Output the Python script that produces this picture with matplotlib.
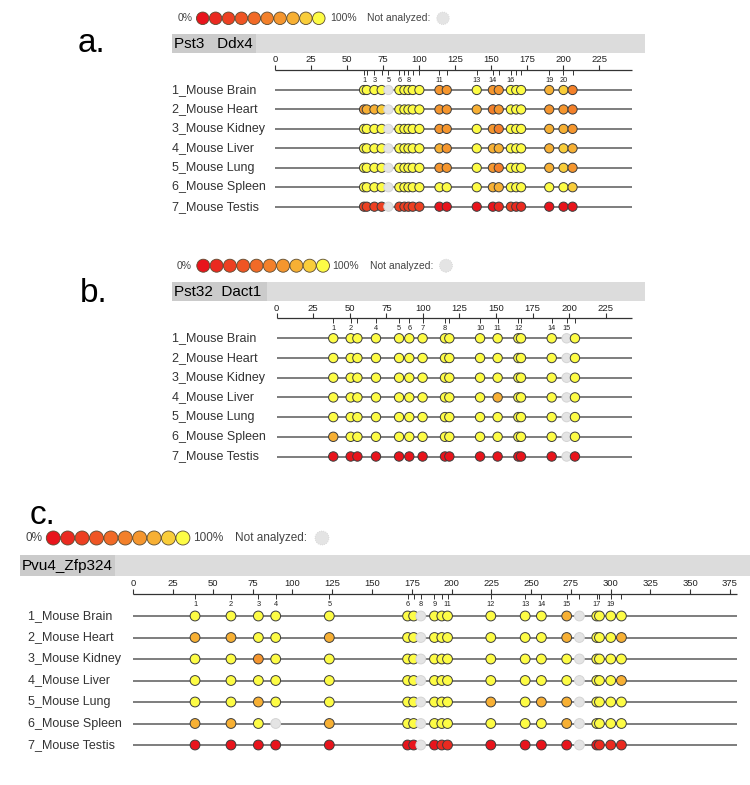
import numpy as np
import matplotlib
matplotlib.use('Agg')
from matplotlib import pyplot as plt
from matplotlib.patches import Rectangle
import matplotlib.transforms as mtransforms

plt.rcParams['font.family'] = ['Liberation Sans', 'DejaVu Sans']

W, H = 750, 785

tissues = ['1_Mouse Brain', '2_Mouse Heart', '3_Mouse Kidney', '4_Mouse Liver',
           '5_Mouse Lung', '6_Mouse Spleen', '7_Mouse Testis']

# 0% ... 100% methylation, 10 levels
palette = ['#e8141c', '#ea2a20', '#ed4022', '#ef5524', '#f16a27',
           '#f3802a', '#f5962e', '#f7b034', '#f9cd3a', '#fdfc45']
na_color = '#e4e4e4'

# panel a: Pst3 Ddx4
a_pos = [61.8, 63.7, 69, 74, 78.7, 86.3, 89.8, 92.6, 95.6, 100.2, 114.1, 119.2,
         140, 151.2, 155.3, 163.7, 167.4, 170.8, 190.3, 200.2, 206.5]
a_labels = [1, 3, 5, 6, 8, 11, 13, 14, 16, 19, 20]
a_levels = [
    [9, 9, 9, 9, -1, 9, 9, 9, 9, 9, 6, 6, 9, 6, 6, 9, 9, 9, 7, 8, 5],
    [6, 7, 7, 8, -1, 9, 9, 9, 9, 9, 6, 6, 7, 5, 6, 9, 9, 9, 6, 6, 5],
    [9, 9, 9, 9, -1, 9, 9, 9, 9, 9, 6, 6, 9, 6, 5, 9, 9, 9, 7, 7, 6],
    [9, 9, 9, 9, -1, 9, 9, 9, 9, 9, 7, 6, 9, 7, 7, 9, 9, 9, 7, 8, 7],
    [9, 9, 9, 9, -1, 9, 9, 9, 9, 9, 6, 6, 9, 6, 5, 9, 9, 9, 7, 8, 6],
    [9, 9, 9, 9, -1, 9, 9, 9, 9, 9, 9, 9, 9, 7, 7, 9, 9, 9, 9, 9, 8],
    [2, 2, 2, 2, -1, 2, 2, 2, 2, 2, 0, 0, 0, 0, 1, 2, 1, 1, 0, 0, 0],
]

# panel b: Pst32 Dact1
b_pos = [38.7, 50.6, 55.2, 67.9, 83.7, 90.7, 99.8, 115.1, 118.1, 139.1, 151.1,
         165.3, 167.1, 188.1, 198.3, 204]
b_labels = [1, 2, 4, 5, 6, 7, 8, 10, 11, 12, 14, 15]
b_levels = [
    [9, 9, 9, 9, 9, 9, 9, 9, 9, 9, 9, 9, 9, 9, -1, 9],
    [9, 9, 9, 9, 9, 9, 9, 9, 9, 9, 9, 9, 9, 9, -1, 9],
    [9, 9, 9, 9, 9, 9, 9, 9, 9, 9, 9, 9, 9, 9, -1, 9],
    [9, 9, 9, 9, 9, 9, 9, 9, 9, 9, 7, 9, 9, 9, -1, 9],
    [9, 9, 9, 9, 9, 9, 9, 9, 9, 9, 9, 9, 9, 9, -1, 9],
    [7, 9, 9, 9, 9, 9, 9, 9, 9, 9, 9, 9, 9, 9, -1, 9],
    [0, 0, 0, 0, 0, 0, 0, 0, 0, 0, 0, 0, 0, 0, -1, 0],
]

# panel c: Pvu4_Zfp324
c_pos = [38.8, 61.4, 78.6, 89.5, 123.2, 172.4, 176.2, 180.7, 189.3, 193.9, 197.5,
         224.7, 246.3, 256.5, 272.4, 280.4, 291.3, 293, 300.1, 306.8]
c_labels = [1, 2, 3, 4, 5, 6, 8, 9, 11, 12, 13, 14, 15, 17, 19]
c_levels = [
    [9, 9, 9, 9, 9, 9, 9, -1, 9, 9, 9, 9, 9, 9, 7, -1, 9, 9, 9, 9],
    [7, 7, 9, 9, 7, 9, 9, -1, 9, 9, 9, 9, 9, 9, 7, -1, 9, 9, 9, 7],
    [9, 9, 6, 9, 9, 9, 9, -1, 9, 9, 9, 9, 9, 9, 9, -1, 9, 9, 9, 9],
    [9, 9, 9, 9, 9, 9, 9, -1, 9, 9, 9, 9, 9, 9, 9, -1, 9, 9, 9, 7],
    [9, 9, 7, 9, 9, 9, 9, -1, 9, 9, 9, 7, 9, 7, 7, -1, 9, 9, 9, 9],
    [7, 7, 9, -1, 7, 9, 9, -1, 9, 9, 9, 9, 9, 9, 7, -1, 9, 9, 9, 9],
    [0, 0, 0, 0, 0, 0, 0, -1, 0, 1, 1, 0, 0, 0, 0, -1, 0, 1, 1, 1],
]

fig = plt.figure(figsize=(W / 100, H / 100), dpi=100, facecolor='w')

# overlay in pixel coordinates for headers / legends
ov = fig.add_axes([0, 0, 1, 1], zorder=0)
ov.set_xlim(0, W)
ov.set_ylim(H, 0)
ov.axis('off')


def s_of(d):
    # marker diameter in px -> scatter size
    return (d * 0.72) ** 2


def legend(x0, y, c0, step, d, txt_size, x100, xna, xcirc):
    ov.text(x0, y, '0%', fontsize=txt_size, color='#444444', va='center', ha='left')
    xs = c0 + step * np.arange(len(palette))
    ov.scatter(xs, [y] * len(palette), s=s_of(d), c=palette,
               edgecolors='#5a4a30', linewidths=0.6, zorder=3)
    ov.text(x100, y, '100%', fontsize=txt_size, color='#444444', va='center', ha='left')
    ov.text(xna, y, 'Not analyzed:', fontsize=txt_size, color='#444444', va='center', ha='left')
    ov.scatter([xcirc], [y], s=s_of(d), c=na_color, edgecolors='#d4d4d4',
               linewidths=0.6, linestyle=':', zorder=3)


def header(x0, y0, x1, y1, xdark, title, size):
    ov.add_patch(Rectangle((x0, y0), x1 - x0, y1 - y0, color='#dcdcdc', lw=0))
    ov.add_patch(Rectangle((x0, y0), xdark - x0, y1 - y0, color='#cbcbcb', lw=0))
    ov.text(x0 + 2, (y0 + y1) / 2 + 0.5, title, fontsize=size, va='center', ha='left', color='black')


def panel(pos, labels, levels, x0, scale, x_end, y_axis, y_row1, sp, label_x, d, lab_size):
    xmax = (x_end - x0) / scale
    top = y_row1 + (-1.5 - 1) * sp
    bot = y_row1 + (7.5 - 1) * sp
    ax = fig.add_axes([x0 / W, 1 - bot / H, (x_end - x0) / W, (bot - top) / H], zorder=2)
    ax.set_xlim(0, xmax)
    ax.set_ylim(7.5, -1.5)
    ax.axis('off')
    ax.patch.set_alpha(0)

    ya = 1 + (y_axis - y_row1) / sp
    # ruler
    ax.hlines(ya, 0, xmax, color='#333333', lw=0.9, clip_on=False)
    for t in np.arange(0, xmax, 25):
        ax.vlines(t, ya - 5 / sp, ya, color='#333333', lw=0.8, clip_on=False)
        ax.text(t, ya - 10 / sp, '%d' % t, fontsize=6.8, ha='center', va='center',
                color='#222222', clip_on=False)
    ax.vlines(pos, ya, ya + 5 / sp, color='#333333', lw=0.7, clip_on=False)
    for n in labels:
        ax.text(pos[n - 1], ya + 10 / sp, str(n), fontsize=5.3, ha='center',
                va='center', color='#222222', clip_on=False)

    tr = mtransforms.blended_transform_factory(ov.transData, ax.transData)
    for i, (name, lev) in enumerate(zip(tissues, levels)):
        r = i + 1
        ax.hlines(r, 0, xmax, color='#5a5a5a', lw=1.1, zorder=1, clip_on=False)
        fc = [na_color if v < 0 else palette[v] for v in lev]
        ec = ['#d4d4d4' if v < 0 else '#3c3c3c' for v in lev]
        ax.scatter(pos, [r] * len(pos), s=s_of(d), c=fc, edgecolors=ec,
                   linewidths=0.7, zorder=3, clip_on=False)
        ax.text(label_x, r, name, transform=tr, fontsize=lab_size, ha='left',
                va='center', color='#333333')
    return ax


# ---- a.
ov.text(78, 52, 'a.', fontsize=24, ha='left', va='baseline')
legend(178, 18.3, 202.7, 12.9, 12.5, 7.5, 330, 367, 443)
header(172, 34, 645, 53, 256, 'Pst3   Ddx4', 11)
panel(a_pos, a_labels, a_levels, 275, 1.441, 632, 70, 90, 19.45, 172, 9.2, 9)

# ---- b.
ov.text(80, 302, 'b.', fontsize=24, ha='left', va='baseline')
legend(177, 265.7, 203.3, 13.3, 13, 7.5, 332, 370, 446)
header(172, 282, 645, 301, 267, 'Pst32  Dact1', 11)
panel(b_pos, b_labels, b_levels, 276.7, 1.462, 632, 318.3, 338.3, 19.7, 172, 9.4, 9)

# ---- c.
ov.text(30, 524, 'c.', fontsize=24, ha='left', va='baseline')
legend(25, 538, 53.3, 14.4, 14, 8.5, 193, 235, 322)
header(20, 555, 750, 576, 115, 'Pvu4_Zfp324', 11)
panel(c_pos, c_labels, c_levels, 133.3, 1.591, 737, 594, 616, 21.5, 28, 9.8, 9)

plt.savefig('out.png', dpi=100, facecolor='w')
plt.close()
